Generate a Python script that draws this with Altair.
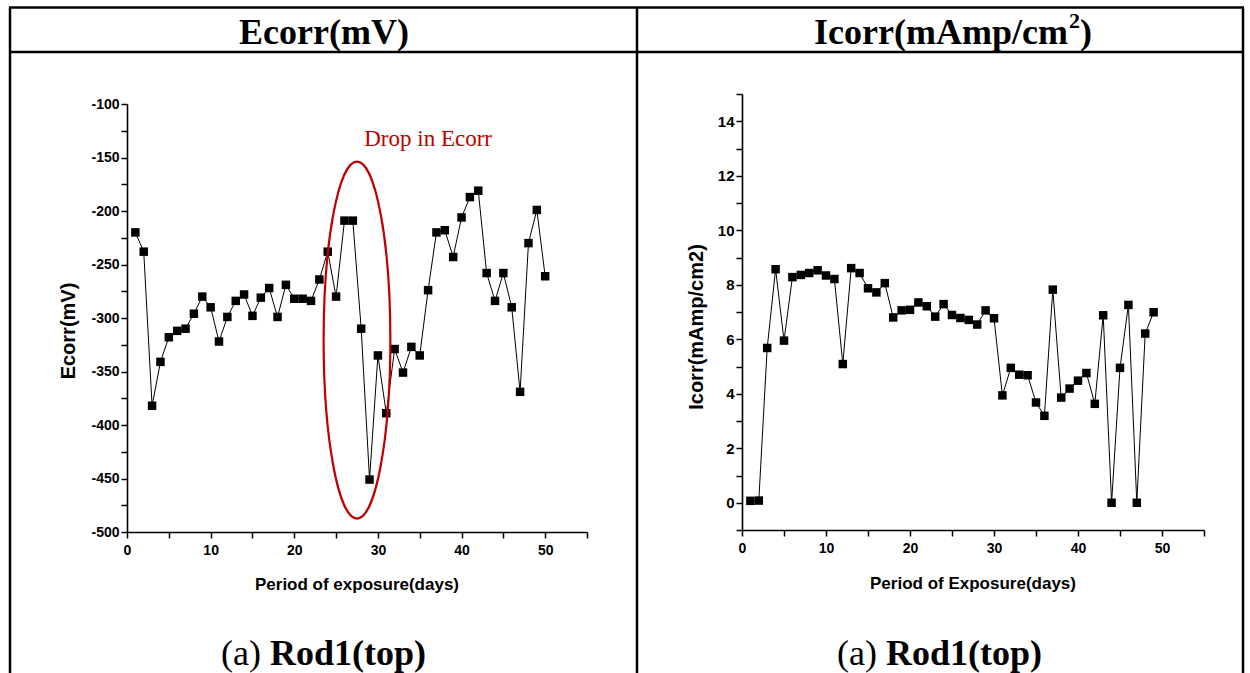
import altair as alt
import pandas as pd

# ---------------- data ----------------
days_e = list(range(1, 51))
ecorr = [-220, -238, -382, -341, -318, -312, -310, -296, -280, -290,
         -322, -299, -284, -278, -298, -281, -272, -299, -269, -282,
         -282, -284, -264, -238, -280, -209, -209, -310, -451, -335,
         -389, -329, -351, -327, -335, -274, -220, -218, -243, -206,
         -187, -181, -258, -284, -258, -290, -369, -230, -199, -261]

days_i = list(range(1, 50))
icorr = [0.07, 0.08, 5.68, 8.57, 5.95, 8.28, 8.36, 8.43, 8.53, 8.34,
         8.21, 5.09, 8.61, 8.43, 7.87, 7.72, 8.06, 6.80, 7.06, 7.08,
         7.35, 7.21, 6.83, 7.29, 6.89, 6.78, 6.71, 6.54, 7.06, 6.77,
         3.94, 4.95, 4.70, 4.68, 3.68, 3.19, 7.82, 3.86, 4.19, 4.48,
         4.76, 3.63, 6.88, 0.00, 4.95, 7.26, 0.00, 6.21, 6.99]

x_ticks = list(range(0, 56, 5))
ecorr_ticks = list(range(-500, -99, 25))
icorr_ticks = list(range(-1, 16))

# annotation (ellipse around drop, label)
ellipse_center = (27.5, -320.6)
note_pos = (36.0, -132.7)
note_text = "Drop in Ecorr"

df_e = pd.DataFrame({"day": days_e, "ecorr": ecorr})
df_i = pd.DataFrame({"day": days_i, "icorr": icorr})
one = pd.DataFrame({"k": [0]})

W, H = 1250, 673
LE = dict(x0=127, x1=587, y0=532, y1=104)
RI = dict(x0=742, x1=1204, y0=530, y1=94)

common = dict(grid=False, domainColor="black", domainWidth=1.6, tickColor="black",
              tickWidth=1.5, tickSize=6, labelFont="Liberation Sans",
              labelFontWeight="bold", labelColor="black", title=None,
              labelFlush=False, labelOverlap=False)

# ---------------- Ecorr panel ----------------
xe = alt.X("day:Q", scale=alt.Scale(domain=[0, 55], range=[LE["x0"], LE["x1"]], nice=False, zero=False),
           axis=alt.Axis(orient="bottom", offset=LE["y0"] - H, values=x_ticks,
                         labelExpr="datum.value % 10 === 0 ? '' + datum.value : ''",
                         labelFontSize=14, labelPadding=5, **common))
ye = alt.Y("ecorr:Q", scale=alt.Scale(domain=[-500, -100], range=[LE["y0"], LE["y1"]], nice=False, zero=False),
           axis=alt.Axis(orient="left", offset=-LE["x0"], values=ecorr_ticks,
                         labelExpr="datum.value % 50 === 0 ? '' + datum.value : ''",
                         labelFontSize=14, labelPadding=2, **common))

e_line = alt.Chart(df_e).mark_line(color="black", strokeWidth=1).encode(x=xe, y=ye)
e_pts = alt.Chart(df_e).mark_square(color="black", size=72, opacity=1).encode(x="day:Q", y="ecorr:Q")

ell_path = "M -0.187 0 A 0.187 1 0 1 0 0.187 0 A 0.187 1 0 1 0 -0.187 0 Z"
e_ell = alt.Chart(one).mark_point(shape=ell_path, size=127449, filled=False,
                                  stroke="#c00000", strokeWidth=2.2, opacity=1).encode(
    x=alt.datum(ellipse_center[0]), y=alt.datum(ellipse_center[1]))
e_note = alt.Chart(one).mark_text(text=note_text, font="Liberation Serif", fontSize=23,
                                  color="#c00000", align="center", baseline="middle").encode(
    x=alt.datum(note_pos[0]), y=alt.datum(note_pos[1]))

ecorr_layer = alt.layer(e_line, e_pts, e_ell, e_note)

# ---------------- Icorr panel ----------------
xi = alt.X("day:Q", scale=alt.Scale(domain=[0, 55], range=[RI["x0"], RI["x1"]], nice=False, zero=False),
           axis=alt.Axis(orient="bottom", offset=RI["y0"] - H, values=x_ticks,
                         labelExpr="datum.value % 10 === 0 ? '' + datum.value : ''",
                         labelFontSize=14, labelPadding=5, **common))
yi = alt.Y("icorr:Q", scale=alt.Scale(domain=[-1, 15], range=[RI["y0"], RI["y1"]], nice=False, zero=False),
           axis=alt.Axis(orient="left", offset=-RI["x0"], values=icorr_ticks,
                         labelExpr="datum.value % 2 === 0 ? '' + datum.value : ''",
                         labelFontSize=15, labelPadding=2, **common))

i_line = alt.Chart(df_i).mark_line(color="black", strokeWidth=1).encode(x=xi, y=yi)
i_pts = alt.Chart(df_i).mark_square(color="black", size=72, opacity=1).encode(x="day:Q", y="icorr:Q")
icorr_layer = alt.layer(i_line, i_pts)

# ---------------- table frame & texts ----------------
def hrule(x1, x2, y):
    return alt.Chart(one).mark_rule(color="black", strokeWidth=2.5).encode(
        x=alt.value(x1), x2=alt.value(x2), y=alt.value(y))

def vrule(x, y1, y2):
    return alt.Chart(one).mark_rule(color="black", strokeWidth=2.5).encode(
        x=alt.value(x), y=alt.value(y1), y2=alt.value(y2))

def txt(s, x, y, font="Liberation Sans", size=16, weight="bold", align="center",
        baseline="middle", angle=0, color="black"):
    kw = dict(text=s, font=font, fontSize=size, fontWeight=weight, align=align,
              baseline=baseline, color=color)
    if angle:
        kw["angle"] = angle
    return alt.Chart(one).mark_text(**kw).encode(x=alt.value(x), y=alt.value(y))

decor = [
    hrule(9, 1244, 7.5), hrule(9, 1244, 52),
    vrule(10, 7.5, 673), vrule(637, 7.5, 673), vrule(1243, 7.5, 673),
    txt("Ecorr(mV)", 324, 44, font="Liberation Serif", size=36, baseline="alphabetic"),
    txt("Icorr(mAmp/cm", 1068, 44, font="Liberation Serif", size=36, align="right", baseline="alphabetic"),
    txt("2", 1069, 28, font="Liberation Serif", size=22, align="left", baseline="alphabetic"),
    txt(")", 1080, 44, font="Liberation Serif", size=36, align="left", baseline="alphabetic"),
    txt("(a)", 261, 665, font="Liberation Serif", size=36, weight="normal", align="right", baseline="alphabetic"),
    txt("Rod1(top)", 270, 665, font="Liberation Serif", size=36, align="left", baseline="alphabetic"),
    txt("(a)", 877, 665, font="Liberation Serif", size=36, weight="normal", align="right", baseline="alphabetic"),
    txt("Rod1(top)", 886, 665, font="Liberation Serif", size=36, align="left", baseline="alphabetic"),
    txt("Ecorr(mV)", 69, 331, size=20, angle=270),
    txt("Icorr(mAmp/cm2)", 697, 327, size=20, angle=270),
    txt("Period of exposure(days)", 357, 585, size=17),
    txt("Period of Exposure(days)", 973, 584, size=17),
]

chart = alt.layer(ecorr_layer, icorr_layer, *decor).resolve_scale(
    x="independent", y="independent"
).properties(
    width=W, height=H, padding=0, background="white",
    autosize=alt.AutoSizeParams(type="none"),
).configure_view(stroke=None)

chart.save("out.html", embed_options={"renderer": "svg", "actions": False})
